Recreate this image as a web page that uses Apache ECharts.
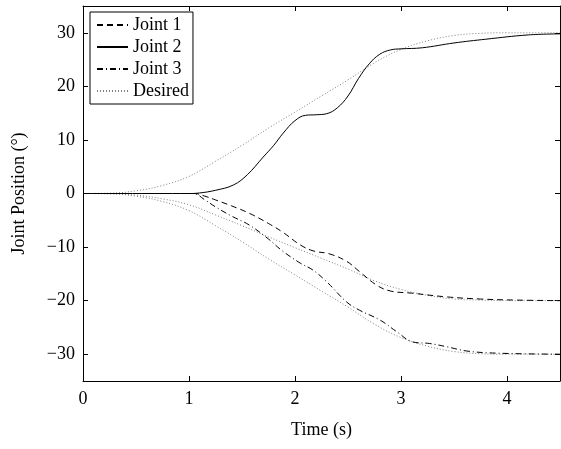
<!DOCTYPE html>
<html>
<head>
<meta charset="utf-8">
<script src="https://cdn.jsdelivr.net/npm/echarts@6/dist/echarts.min.js"></script>
<style>html,body{margin:0;padding:0;background:#fff}#c{width:561px;height:449px}</style>
</head>
<body>
<div id="c"></div>
<script>
// Tick labels
const xTicks = [0, 1, 2, 3, 4];
const yTicks = [-30, -20, -10, 0, 10, 20, 30];

// Desired trajectories (sampled every 0.25 s)
const desiredT = [0, 0.25, 0.5, 0.75, 1, 1.25, 1.5, 1.75, 2, 2.25, 2.5, 2.75, 3, 3.25, 3.5, 3.75, 4, 4.25, 4.5];
const desiredUp = [0, 0.05, 0.5, 1.5, 3.2, 6.0, 9.0, 12.2, 15.2, 18.2, 21.2, 24.4, 26.9, 28.5, 29.5, 29.9, 30, 30, 30];
const desiredMid = [0, -0.03, -0.3, -1.0, -2.1, -4.0, -6.0, -8.1, -10.1, -12.1, -14.1, -16.3, -17.9, -19.0, -19.7, -19.9, -20, -20, -20];
const desiredLow = [0, -0.05, -0.5, -1.5, -3.2, -6.0, -9.0, -12.2, -15.2, -18.2, -21.2, -24.4, -26.9, -28.5, -29.5, -29.9, -30, -30, -30];

// Joint 1 (dashed)
const j1T = [0, 1.05, 1.15, 1.25, 1.4, 1.57, 1.75, 1.89, 2.05, 2.17, 2.33, 2.49, 2.61, 2.77, 2.9, 3.1, 3.43, 3.75, 4.1, 4.5];
const j1V = [0, 0, -0.5, -1.2, -2.3, -3.7, -5.6, -7.3, -9.6, -10.7, -11.3, -12.7, -14.6, -17.1, -18.2, -18.6, -19.3, -19.7, -19.9, -20];

// Joint 2 (solid)
const j2T = [0, 1.0, 1.1, 1.25, 1.42, 1.55, 1.7, 1.8, 1.89, 2.0, 2.1, 2.2, 2.3, 2.4, 2.5, 2.6, 2.7, 2.8, 2.9, 3.0, 3.2, 3.5, 3.8, 4.2, 4.5];
const j2V = [0, 0, 0.1, 0.6, 1.6, 3.5, 6.8, 9.0, 11.3, 13.6, 14.6, 14.7, 14.9, 16.0, 18.2, 21.5, 24.2, 26.0, 26.8, 27.0, 27.2, 28.1, 28.8, 29.6, 29.8];

// Joint 3 (dash-dot)
const j3T = [0, 1.04, 1.15, 1.25, 1.4, 1.57, 1.75, 1.88, 2.05, 2.17, 2.3, 2.49, 2.61, 2.8, 2.96, 3.11, 3.27, 3.43, 3.62, 3.9, 4.5];
const j3V = [0, 0, -1.2, -2.5, -4.2, -5.9, -8.5, -10.7, -13.0, -14.3, -16.5, -20.3, -21.8, -23.6, -25.8, -27.7, -28.0, -28.6, -29.4, -29.8, -30];

const pairs = (t, v) => t.map((x, i) => [x, v[i]]);
const FONT = "'Liberation Serif','Times New Roman',serif";
const fmt = v => (v < 0 ? '\u2212' + Math.abs(v) : String(v));

const chart = echarts.init(document.getElementById('c'), null, {renderer: 'canvas'});

function lineSeries(name, data, color, type, z) {
  return {
    name: name, type: 'line', data: data, symbol: 'none', showSymbol: false,
    smooth: 0.4, z: z || 2,
    lineStyle: {color: color, width: 1, type: type},
    itemStyle: {color: color},
    emphasis: {disabled: true}, animation: false
  };
}

const axisCommon = {
  axisLine: {show: true, onZero: false, lineStyle: {color: '#000', width: 1}},
  splitLine: {show: false},
  axisTick: {show: true, inside: true, length: 5, lineStyle: {color: '#000'}}
};

chart.setOption({
  animation: false,
  backgroundColor: '#fff',
  grid: {left: 83, right: 1, top: 6, bottom: 68, containLabel: false},
  legend: {
    show: true, orient: 'vertical', left: 90, top: 12,
    data: ['Joint 1', 'Joint 2', 'Joint 3', 'Desired'],
    backgroundColor: '#fff', borderColor: '#000', borderWidth: 1, borderRadius: 0,
    padding: [4, 4, 4, 6], itemWidth: 31, itemHeight: 18, itemGap: 4,
    itemStyle: {opacity: 0, borderWidth: 0},
    textStyle: {fontFamily: FONT, fontSize: 18, color: '#000', lineHeight: 18},
    selectedMode: false
  },
  xAxis: [
    Object.assign({}, axisCommon, {
      type: 'value', min: 0, max: 4.5, position: 'bottom',
      name: 'Time (s)', nameLocation: 'middle', nameGap: 40,
      nameTextStyle: {fontFamily: FONT, fontSize: 18, color: '#000'},
      axisTick: Object.assign({}, axisCommon.axisTick, {customValues: xTicks}),
      axisLabel: {customValues: xTicks, fontFamily: FONT, fontSize: 18, color: '#000', margin: 9, formatter: fmt}
    }),
    Object.assign({}, axisCommon, {
      type: 'value', min: 0, max: 4.5, position: 'top',
      axisTick: Object.assign({}, axisCommon.axisTick, {customValues: xTicks}),
      axisLabel: {show: false}
    })
  ],
  yAxis: [
    Object.assign({}, axisCommon, {
      type: 'value', min: -35, max: 35, position: 'left',
      name: 'Joint Position (\u00b0)', nameLocation: 'middle', nameGap: 55, nameRotate: 90,
      nameTextStyle: {fontFamily: FONT, fontSize: 18, color: '#000'},
      axisTick: Object.assign({}, axisCommon.axisTick, {customValues: yTicks}),
      axisLabel: {customValues: yTicks, fontFamily: FONT, fontSize: 18, color: '#000', margin: 8, formatter: fmt}
    }),
    Object.assign({}, axisCommon, {
      type: 'value', min: -35, max: 35, position: 'right',
      axisTick: Object.assign({}, axisCommon.axisTick, {customValues: yTicks}),
      axisLabel: {show: false}
    })
  ],
  series: [
    lineSeries('Joint 1', pairs(j1T, j1V), '#000', [6, 4], 3),
    lineSeries('Joint 2', pairs(j2T, j2V), '#000', 'solid', 3),
    lineSeries('Joint 3', pairs(j3T, j3V), '#000', [6, 3, 1, 3], 3),
    lineSeries('Desired', pairs(desiredT, desiredUp), '#808080', [1, 2], 2),
    lineSeries('Desired', pairs(desiredT, desiredMid), '#808080', [1, 2], 2),
    lineSeries('Desired', pairs(desiredT, desiredLow), '#808080', [1, 2], 2)
  ]
});
</script>
</body>
</html>
